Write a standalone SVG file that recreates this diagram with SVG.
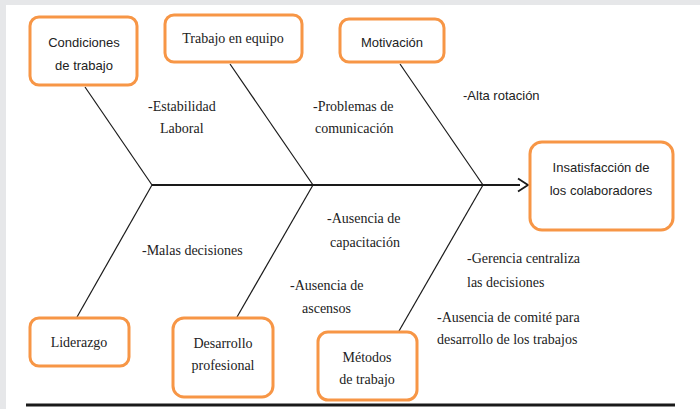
<svg xmlns="http://www.w3.org/2000/svg" width="700" height="409" viewBox="0 0 700 409">
<style>
.box{fill:#fff;stroke:#f79646;stroke-width:3}
.bone{stroke:#1a1a1a;stroke-width:1.2;fill:none}
.sans{font-family:"Liberation Sans",Arial,sans-serif;font-size:13px;fill:#222}
.serif{font-family:"Liberation Serif","Times New Roman",serif;font-size:14px;fill:#222}
.c{text-anchor:middle}
</style>
<rect width="700" height="409" fill="#e6e7e9"/>
<rect x="6" y="5" width="694" height="404" fill="#fff"/>
<g id="connectors">
<line class="bone" x1="152" y1="185" x2="520" y2="185" style="stroke-width:1.8"/>
<polyline class="bone" points="518,178.5 528,185 518,191.5" style="stroke-width:1.8"/>
<line class="bone" x1="85" y1="87" x2="152" y2="185"/>
<line class="bone" x1="230" y1="64" x2="313" y2="185"/>
<line class="bone" x1="400" y1="64" x2="483" y2="185"/>
<line class="bone" x1="152" y1="185" x2="77" y2="317"/>
<line class="bone" x1="313" y1="185" x2="237" y2="317"/>
<line class="bone" x1="483" y1="185" x2="399" y2="331"/>
</g>
<g id="condiciones"><rect class="box" x="30" y="17" width="107" height="68" rx="9"/><text class="sans c" x="84" y="47">Condiciones</text><text class="sans c" x="84" y="70">de trabajo</text></g>
<g id="trabajo-equipo"><rect class="box" x="165" y="15" width="137" height="47" rx="9"/><text class="serif c" x="233" y="43">Trabajo en equipo</text></g>
<g id="motivacion"><rect class="box" x="340" y="19" width="104" height="43" rx="9"/><text class="sans c" x="392" y="47">Motivación</text></g>
<g id="insatisfaccion"><rect class="box" x="530" y="142" width="143" height="88" rx="12"/><text class="sans c" x="601" y="172">Insatisfacción de</text><text class="sans c" x="601" y="195">los colaboradores</text></g>
<g id="liderazgo"><rect class="box" x="30" y="318" width="99" height="48" rx="9"/><text class="serif c" x="79" y="347">Liderazgo</text></g>
<g id="desarrollo"><rect class="box" x="173" y="318" width="100" height="79" rx="11"/><text class="serif c" x="223" y="348">Desarrollo</text><text class="serif c" x="223" y="370">profesional</text></g>
<g id="metodos"><rect class="box" x="318" y="332" width="99" height="68" rx="10"/><text class="serif c" x="367" y="362">Métodos</text><text class="serif c" x="367" y="384">de trabajo</text></g>
<g id="labels">
<text class="serif" x="148" y="111">-Estabilidad</text>
<text class="serif" x="160" y="133">Laboral</text>
<text class="serif" x="313" y="111">-Problemas de</text>
<text class="serif" x="315" y="133">comunicación</text>
<text class="sans" x="463" y="100">-Alta rotación</text>
<text class="serif" x="142" y="255">-Malas decisiones</text>
<text class="serif" x="327" y="223">-Ausencia de</text>
<text class="serif" x="330" y="247">capacitación</text>
<text class="serif" x="290" y="290">-Ausencia de</text>
<text class="serif" x="302" y="313">ascensos</text>
<text class="serif" x="467" y="263">-Gerencia centraliza</text>
<text class="serif" x="467" y="287">las decisiones</text>
<text class="serif" x="437" y="322">-Ausencia de comité para</text>
<text class="serif" x="437" y="344">desarrollo de los trabajos</text>
</g>
<line x1="26" y1="405" x2="675" y2="405" stroke="#1a1a1a" stroke-width="3"/>
</svg>
